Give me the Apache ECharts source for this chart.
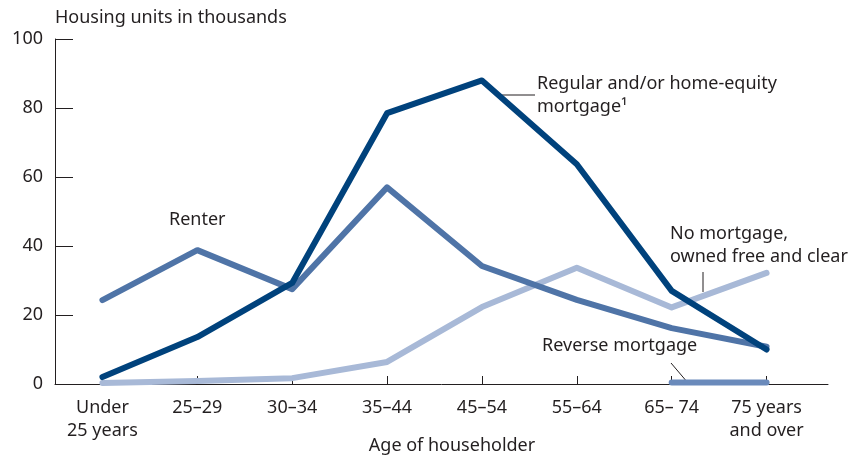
<!DOCTYPE html>
<html>
<head>
<meta charset="utf-8">
<script src="https://cdn.jsdelivr.net/npm/echarts@6/dist/echarts.min.js"></script>
<style>
  html, body { margin: 0; padding: 0; background: #fff; }
  #chart { width: 867px; height: 458px; }
</style>
</head>
<body>
<div id="chart"></div>
<script>
const categories = ["Under\n25 years", "25–29", "30–34", "35–44", "45–54", "55–64", "65– 74", "75 years\nand over"];
const regularMortgage = [2, 13.6, 29.3, 78.5, 88, 63.7, 27, 10];
const renter = [24.3, 38.8, 27.5, 57, 34.2, 24.4, 16.2, 10.8];
const noMortgage = [0.3, 0.9, 1.7, 6.4, 22.3, 33.7, 22.2, 32.2];
const reverseMortgage = [null, null, null, null, null, null, 0.4, 0.4];
const yTicks = [0, 20, 40, 60, 80, 100];

const FONT = "Noto Sans";
const TEXT = "#231f20";
const FS = 18;

const chart = echarts.init(document.getElementById("chart"), null, { renderer: "canvas" });

function lineSeries(name, data, color, z) {
  return {
    name: name,
    type: "line",
    data: data,
    symbol: "none",
    z: z,
    lineStyle: { color: color, width: 6, cap: "round", join: "round" },
    animation: false
  };
}

const option = {
  animation: false,
  textStyle: { fontFamily: FONT },
  title: [
    {
      text: "Housing units in thousands",
      left: 50, top: 4,
      textStyle: { fontSize: FS, fontWeight: "normal", color: TEXT, fontFamily: FONT }
    },
    {
      text: "Age of householder",
      left: 447, top: 432, textAlign: "center",
      textStyle: { fontSize: FS, fontWeight: "normal", color: TEXT, fontFamily: FONT }
    }
  ],
  grid: [
    { left: 55, right: 53, top: 39, bottom: 74 },
    { left: 55, right: 39, top: 39, bottom: 74 }
  ],
  xAxis: [
    {
      type: "category",
      data: categories,
      gridIndex: 0,
      boundaryGap: true,
      axisLine: { show: false },
      axisTick: { show: true, inside: true, alignWithLabel: true, length: 8, lineStyle: { color: TEXT, width: 1 } },
      axisLabel: { color: TEXT, fontSize: FS, lineHeight: 23, margin: 12, fontFamily: FONT, interval: 0 }
    },
    {
      type: "value",
      gridIndex: 1,
      min: 0, max: 1,
      axisLine: { show: true, onZero: false, lineStyle: { color: TEXT, width: 1 } },
      axisTick: { show: false },
      axisLabel: { show: false },
      splitLine: { show: false }
    }
  ],
  yAxis: [
    {
      type: "value",
      gridIndex: 0,
      min: 0, max: 100, interval: 20,
      axisLine: { show: true, lineStyle: { color: TEXT, width: 1 } },
      axisTick: { show: true, inside: true, length: 18, lineStyle: { color: TEXT, width: 1 } },
      axisLabel: {
        color: TEXT, fontSize: FS, margin: 12, fontFamily: FONT,
        formatter: function (v) { return yTicks.indexOf(v) >= 0 ? String(v) : ""; }
      },
      splitLine: { show: false }
    },
    {
      type: "value",
      gridIndex: 1,
      show: false,
      min: 0, max: 1
    }
  ],
  series: [
    lineSeries("No mortgage, owned free and clear", noMortgage, "#a8b9d7", 2),
    lineSeries("Renter", renter, "#4f74a7", 3),
    lineSeries("Regular and/or home-equity mortgage", regularMortgage, "#00427c", 4),
    lineSeries("Reverse mortgage", reverseMortgage, "#6a8abb", 5)
  ],
  graphic: [
    { type: "text", left: 169, top: 211, style: { text: "Renter", fill: TEXT, font: FS + "px " + FONT } },
    { type: "text", left: 537, top: 72, style: { text: "Regular and/or home-equity\nmortgage¹", fill: TEXT, font: FS + "px " + FONT, lineHeight: 23 } },
    { type: "line", shape: { x1: 500, y1: 95, x2: 535, y2: 95 }, style: { stroke: TEXT, lineWidth: 1 } },
    { type: "text", left: 670, top: 222, style: { text: "No mortgage,\nowned free and clear", fill: TEXT, font: FS + "px " + FONT, lineHeight: 23 } },
    { type: "line", shape: { x1: 703, y1: 272, x2: 703, y2: 292 }, style: { stroke: TEXT, lineWidth: 1 } },
    { type: "text", left: 542, top: 337, style: { text: "Reverse mortgage", fill: TEXT, font: FS + "px " + FONT } },
    { type: "line", shape: { x1: 671, y1: 363, x2: 688, y2: 383 }, style: { stroke: TEXT, lineWidth: 1 } }
  ]
};

chart.setOption(option);
window.addEventListener("resize", function () { chart.resize(); });
</script>
</body>
</html>
